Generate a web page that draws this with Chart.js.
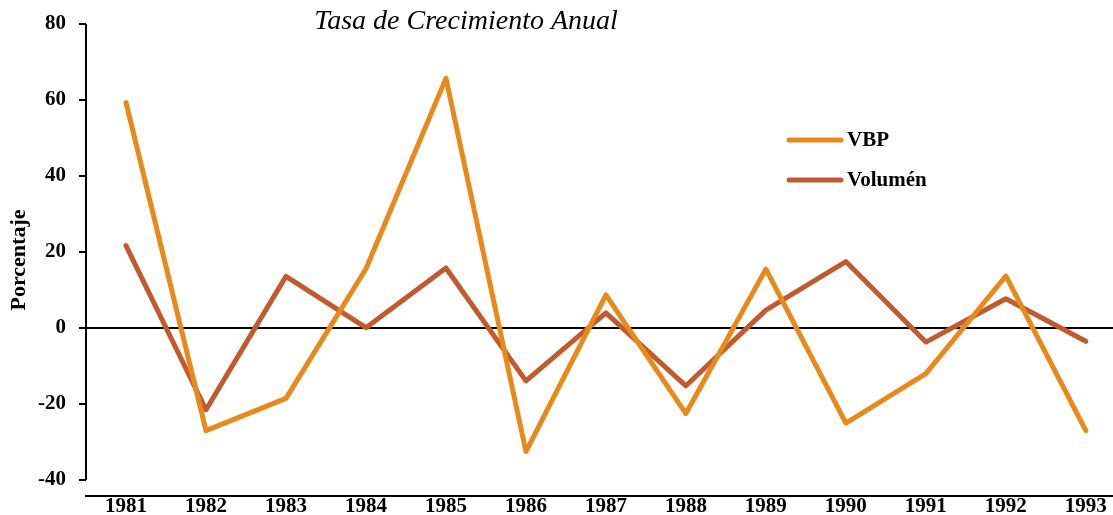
<!DOCTYPE html>
<html>
<head>
<meta charset="utf-8">
<script src="https://cdn.jsdelivr.net/npm/chart.js@4/dist/chart.umd.min.js"></script>
<style>
  html, body { margin: 0; padding: 0; background: #fff; overflow: hidden; }
  canvas { display: block; }
</style>
</head>
<body>
<canvas id="chart" width="1113" height="515"></canvas>
<script>
const years = [1981, 1982, 1983, 1984, 1985, 1986, 1987, 1988, 1989, 1990, 1991, 1992, 1993];
const vbp = [59.3, -27.0, -18.5, 15.6, 65.7, -32.5, 8.7, -22.5, 15.5, -25.0, -12.0, 13.7, -27.0];
const volumen = [21.7, -21.5, 13.6, 0.1, 15.8, -13.9, 4.0, -15.2, 4.7, 17.5, -3.7, 7.7, -3.5];
const yTicks = [-40, -20, 0, 20, 40, 60, 80];

const chartTitle = "Tasa de Crecimiento Anual";
const yTitle = "Porcentaje";
const seriesNames = ["VBP", "Volumén"];
const seriesColors = ["#E8891A", "#C25A2D"];

const serif = "'Liberation Serif', 'Times New Roman', serif";

// axis line, title and legend drawn on top
const extras = {
  id: "extras",
  afterDraw(chart) {
    const ctx = chart.ctx;
    const y = chart.scales.y;
    const left = chart.chartArea.left;

    ctx.save();
    ctx.strokeStyle = "#000";
    ctx.lineWidth = 2;
    ctx.beginPath();
    ctx.moveTo(left, y.getPixelForValue(80));
    ctx.lineTo(left, y.getPixelForValue(-40));
    ctx.stroke();

    ctx.fillStyle = "#000";
    ctx.font = "italic 28px " + serif;
    ctx.textAlign = "center";
    ctx.textBaseline = "middle";
    ctx.fillText(chartTitle, 466, 22);

    ctx.font = "bold 21px " + serif;
    ctx.textAlign = "left";
    chart.data.datasets.forEach((ds, i) => {
      const ly = 140 + i * 40;
      ctx.strokeStyle = ds.borderColor;
      ctx.lineWidth = 5;
      ctx.lineCap = "round";
      ctx.beginPath();
      ctx.moveTo(789, ly);
      ctx.lineTo(841, ly);
      ctx.stroke();
      ctx.fillText(ds.label, 847, ly + 1);
    });
    ctx.restore();
  }
};

new Chart(document.getElementById("chart"), {
  type: "line",
  data: {
    datasets: [
      {
        label: seriesNames[0],
        data: years.map((yr, i) => ({ x: yr, y: vbp[i] })),
        borderColor: seriesColors[0],
      },
      {
        label: seriesNames[1],
        data: years.map((yr, i) => ({ x: yr, y: volumen[i] })),
        borderColor: seriesColors[1],
      }
    ]
  },
  options: {
    responsive: false,
    animation: false,
    devicePixelRatio: 1,
    layout: { padding: { top: 24, right: 0, bottom: 0, left: 0 } },
    elements: {
      point: { radius: 0 },
      line: { borderWidth: 5, tension: 0, borderCapStyle: "round", borderJoinStyle: "round", fill: false }
    },
    plugins: {
      legend: { display: false },
      title: { display: false },
      tooltip: { enabled: false }
    },
    scales: {
      x: {
        type: "linear",
        min: 1980.5,
        max: 1993.34,
        afterBuildTicks: (scale) => { scale.ticks = years.map(v => ({ value: v })); },
        afterFit: (scale) => { scale.height = 19; scale.paddingLeft = 0; scale.paddingRight = 0; },
        grid: { display: false, drawTicks: false },
        border: { display: true, color: "#000", width: 2 },
        ticks: {
          autoSkip: false,
          maxRotation: 0,
          padding: -2,
          color: "#000",
          font: { family: serif, size: 21, weight: "bold" },
          callback: (v) => String(v)
        }
      },
      y: {
        min: -44.2,
        max: 80,
        afterBuildTicks: (scale) => { scale.ticks = yTicks.map(v => ({ value: v })); },
        afterFit: (scale) => { scale.width = 86; scale.paddingTop = 0; scale.paddingBottom = 0; },
        border: { display: false },
        grid: {
          drawOnChartArea: true,
          color: (c) => (c.tick && c.tick.value === 0 ? "#000" : "rgba(0,0,0,0)"),
          lineWidth: 2,
          tickColor: "#000",
          tickLength: 7,
          tickWidth: 2
        },
        ticks: {
          padding: 13,
          color: "#000",
          font: { family: serif, size: 21, weight: "bold" },
          callback: (v) => String(v)
        },
        title: {
          display: true,
          text: yTitle,
          color: "#000",
          padding: { top: 6, bottom: 0 },
          font: { family: serif, size: 22, weight: "bold" }
        }
      }
    }
  },
  plugins: [extras]
});
</script>
</body>
</html>
